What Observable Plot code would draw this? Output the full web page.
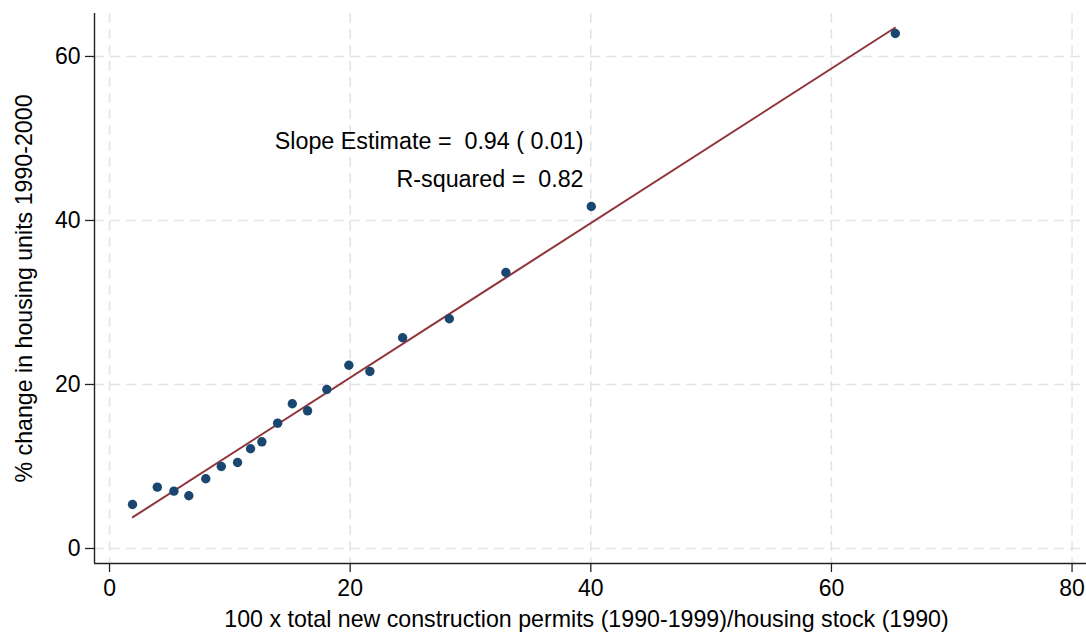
<!DOCTYPE html>
<html>
<head>
<meta charset="utf-8">
<script src="https://cdn.jsdelivr.net/npm/d3@7"></script>
<script src="https://cdn.jsdelivr.net/npm/@observablehq/plot@0.6"></script>
<style>
  html, body { margin: 0; padding: 0; background: #fff; }
  svg text { white-space: pre; }
</style>
</head>
<body>
<div id="chart"></div>
<script>
// Binned scatter: permits rate (x) vs % change in housing units (y)
const permits = [1.91, 3.97, 5.35, 6.59, 8.00, 9.29, 10.64, 11.72, 12.66, 13.97,
                 15.19, 16.46, 18.06, 19.89, 21.64, 24.36, 28.24, 32.94, 40.04, 65.31];
const housingChange = [5.37, 7.48, 6.99, 6.43, 8.50, 10.00, 10.49, 12.16, 13.01, 15.28,
                       17.65, 16.79, 19.39, 22.35, 21.59, 25.70, 28.01, 33.66, 41.71, 62.80];
// fitted line endpoints
const fitX = [1.94, 65.28];
const fitY = [3.82, 63.5];
const xTicks = [0, 20, 40, 60, 80];
const yTicks = [0, 20, 40, 60];
const xDomain = [-1.25, 81.2];
const yDomain = [-1.83, 65.24];
const annotations = ["Slope Estimate =  0.94 ( 0.01)", "R-squared =  0.82"];
const annotX = [39.4, 39.4];
const annotY = [49.6, 45.0];
const xTitle = "100 x total new construction permits (1990-1999)/housing stock (1990)";
const yTitle = "% change in housing units 1990-2000";

const data = permits.map((x, i) => ({x, y: housingChange[i]}));
const fit = fitX.map((x, i) => ({x, y: fitY[i]}));
const notes = annotations.map((t, i) => ({t, x: annotX[i], y: annotY[i]}));

const font = "'Liberation Sans', Arial, sans-serif";
const gridStyle = {stroke: "#e4e4e4", strokeOpacity: 1, strokeWidth: 1.6, strokeDasharray: "10,6"};

const chart = Plot.plot({
  width: 1086,
  height: 637,
  marginLeft: 94,
  marginRight: 0,
  marginTop: 13,
  marginBottom: 74,
  style: {fontFamily: font, background: "#fff", color: "#000"},
  x: {domain: xDomain, label: null},
  y: {domain: yDomain, label: null},
  marks: [
    Plot.gridX(xTicks, gridStyle),
    Plot.gridY(yTicks, gridStyle),
    Plot.axisX({ticks: xTicks, tickSize: 9, tickPadding: 7, fontSize: 23, label: null, stroke: "#222", strokeWidth: 1.3}),
    Plot.axisY({ticks: yTicks, tickSize: 9, tickPadding: 5, fontSize: 23, label: null, stroke: "#222", strokeWidth: 1.3}),
    Plot.ruleX([xDomain[0]], {stroke: "#222", strokeWidth: 1.4}),
    Plot.ruleY([yDomain[0]], {stroke: "#222", strokeWidth: 1.4}),
    Plot.line(fit, {x: "x", y: "y", stroke: "#90353b", strokeWidth: 2}),
    Plot.dot(data, {x: "x", y: "y", r: 4.7, fill: "#1a476f", stroke: "none"}),
    Plot.text(notes, {x: "x", y: "y", text: "t", textAnchor: "end", fontSize: 23.3, fill: "#000"}),
    Plot.text([xTitle], {frameAnchor: "bottom", textAnchor: "middle", lineAnchor: "middle", dy: 56, dx: -4, fontSize: 23.2, fill: "#000"}),
    Plot.text([yTitle], {frameAnchor: "left", textAnchor: "middle", lineAnchor: "middle", dx: -70, rotate: -90, fontSize: 23.2, fill: "#000"})
  ]
});
document.getElementById("chart").appendChild(chart);
</script>
</body>
</html>
